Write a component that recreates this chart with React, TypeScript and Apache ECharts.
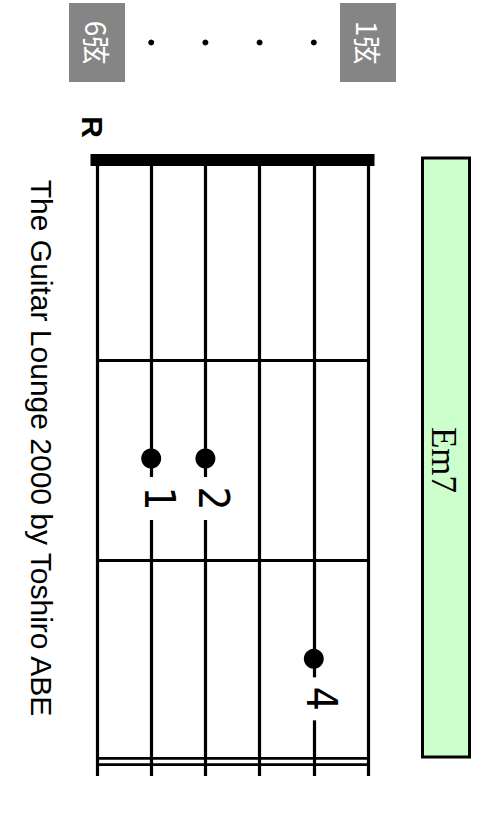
import React, { useEffect, useRef } from "react";
import * as echarts from "echarts";

// chord diagram data (drawn on its side: strings run down the page)
const stringNumbers = [6, 5, 4, 3, 2, 1];
const fretNumbers = [1, 2];
const fretCount = 3;
const stringEnd = 3.075; // strings run a little past the end bar
const nutOverhang = 0.12;
const fingerStrings = [5, 4, 2];
const fingerFrets = [2, 2, 3];
const fingerNumbers = ["1", "2", "4"];
const headerStrings = [6, 1];
const headerLabels = ["6弦", "1弦"];
const headerDotStrings = [5, 4, 3, 2];
const rootString = 6;
const rootLabel = "R";
const chordName = "Em7";
const credit = "The Guitar Lounge 2000 by Toshiro ABE";

const App: React.FC = () => {
  const chartRef = useRef<HTMLDivElement>(null);

  useEffect(() => {
    if (!chartRef.current) return;
    const chart = echarts.init(chartRef.current, undefined, { renderer: "svg" });

    const xAxisBase = {
      type: "value",
      min: 1,
      max: 6,
      inverse: true,
      show: false,
    };

    const option = {
      animation: false,
      backgroundColor: "#ffffff",
      grid: [
        { left: 97, right: 122, top: 160, bottom: 79 },
        { left: 97, right: 122, top: 3, height: 79 },
      ],
      xAxis: [
        { ...xAxisBase, gridIndex: 0 },
        { ...xAxisBase, gridIndex: 1 },
      ],
      yAxis: [
        { type: "value", gridIndex: 0, min: 0, max: fretCount, inverse: true, show: false },
        { type: "value", gridIndex: 1, min: -1, max: 1, show: false },
      ],
      graphic: [
        {
          type: "rect",
          shape: { x: 422.5, y: 158, width: 47, height: 599 },
          style: { fill: "#ccffcc", stroke: "#000", lineWidth: 3 },
          z: 1,
        },
        {
          type: "text",
          x: 443,
          y: 460,
          rotation: -Math.PI / 2,
          style: {
            text: chordName,
            font: "35px 'Liberation Serif', serif",
            fill: "#000",
            align: "center",
            verticalAlign: "middle",
          },
          z: 2,
        },
        {
          type: "text",
          x: 41.5,
          y: 448,
          rotation: -Math.PI / 2,
          style: {
            text: credit,
            font: "30px 'Liberation Sans', sans-serif",
            fill: "#000",
            align: "center",
            verticalAlign: "middle",
          },
        },
      ],
      series: [
        // frets
        {
          type: "lines",
          coordinateSystem: "cartesian2d",
          xAxisIndex: 0,
          yAxisIndex: 0,
          clip: false,
          z: 1,
          lineStyle: { color: "#000", width: 3, opacity: 1 },
          data: fretNumbers.map((f) => ({ coords: [[6, f], [1, f]] })),
        },
        // double end bar
        {
          type: "lines",
          coordinateSystem: "cartesian2d",
          xAxisIndex: 0,
          yAxisIndex: 0,
          clip: false,
          z: 1,
          lineStyle: { color: "#000", width: 9, opacity: 1 },
          data: [{ coords: [[6, fretCount], [1, fretCount]] }],
        },
        {
          type: "lines",
          coordinateSystem: "cartesian2d",
          xAxisIndex: 0,
          yAxisIndex: 0,
          clip: false,
          z: 2,
          lineStyle: { color: "#fff", width: 3.4, opacity: 1 },
          data: [{ coords: [[6, fretCount], [1, fretCount]] }],
        },
        // strings
        {
          type: "lines",
          coordinateSystem: "cartesian2d",
          xAxisIndex: 0,
          yAxisIndex: 0,
          clip: false,
          z: 3,
          lineStyle: { color: "#000", width: 3.2, opacity: 1 },
          data: stringNumbers.map((s) => ({ coords: [[s, 0], [s, stringEnd]] })),
        },
        // nut
        {
          type: "lines",
          coordinateSystem: "cartesian2d",
          xAxisIndex: 0,
          yAxisIndex: 0,
          clip: false,
          z: 4,
          lineStyle: { color: "#000", width: 12, opacity: 1 },
          data: [{ coords: [[6 + nutOverhang, 0], [1 - nutOverhang, 0]] }],
        },
        // finger dots
        {
          type: "scatter",
          xAxisIndex: 0,
          yAxisIndex: 0,
          z: 5,
          symbol: "circle",
          symbolSize: 20,
          symbolOffset: [0, -2],
          itemStyle: { color: "#000", opacity: 1 },
          data: fingerStrings.map((s, i) => [s, fingerFrets[i] - 0.5]),
        },
        // finger numbers
        {
          type: "scatter",
          xAxisIndex: 0,
          yAxisIndex: 0,
          z: 5,
          symbol: "rect",
          symbolSize: [14, 43],
          symbolOffset: [0, 38],
          itemStyle: { color: "#fff", opacity: 1 },
          label: {
            show: true,
            position: "inside",
            rotate: -90,
            offset: [0, -8],
            color: "#000",
            fontSize: 42,
            fontFamily: "'Liberation Sans Narrow', 'DejaVu Sans Condensed', sans-serif",
            formatter: (p: any) => fingerNumbers[p.dataIndex],
          },
          data: fingerStrings.map((s, i) => [s, fingerFrets[i] - 0.5]),
        },
        // root mark
        {
          type: "scatter",
          xAxisIndex: 0,
          yAxisIndex: 0,
          z: 5,
          symbolSize: 1,
          symbolOffset: [-5, -33],
          itemStyle: { color: "transparent", opacity: 1 },
          label: {
            show: true,
            position: "inside",
            rotate: -90,
            color: "#000",
            fontSize: 30,
            fontWeight: "bold",
            fontFamily: "'Liberation Sans', sans-serif",
            formatter: rootLabel,
          },
          data: [[rootString, 0]],
        },
        // header boxes
        {
          type: "scatter",
          xAxisIndex: 1,
          yAxisIndex: 1,
          symbol: "rect",
          symbolSize: [56, 79],
          itemStyle: { color: "#858585", opacity: 1 },
          label: {
            show: true,
            position: "inside",
            rotate: -90,
            color: "#fff",
            fontSize: 28,
            fontFamily: "'Noto Sans CJK JP', sans-serif",
            formatter: (p: any) => headerLabels[p.dataIndex],
          },
          data: headerStrings.map((s) => [s, 0]),
        },
        {
          type: "scatter",
          xAxisIndex: 1,
          yAxisIndex: 1,
          symbolSize: 6,
          itemStyle: { color: "#000", opacity: 1 },
          data: headerDotStrings.map((s) => [s, 0]),
        },
      ],
    };

    chart.setOption(option as any);
    return () => {
      chart.dispose();
    };
  }, []);

  return (
    <div
      ref={chartRef}
      style={{ position: "fixed", left: 0, top: 0, width: 490, height: 840, background: "#fff" }}
    />
  );
};

export default App;
